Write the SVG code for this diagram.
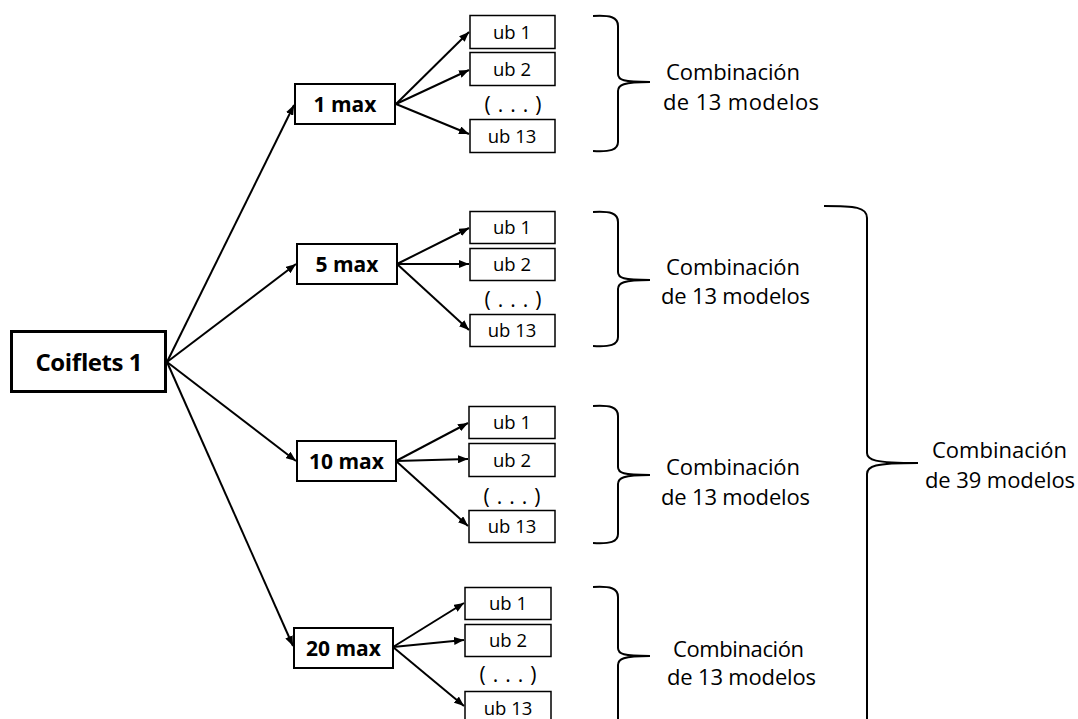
<svg xmlns="http://www.w3.org/2000/svg" width="1078" height="719" viewBox="0 0 1078 719">
<style>
.bg{fill:#ffffff}
.box{fill:#ffffff;stroke:#000;stroke-width:2}
.root{fill:#ffffff;stroke:#000;stroke-width:3}
.ub{fill:#ffffff;stroke:#000;stroke-width:1.5}
.tb{font-family:"Open Sans","Liberation Sans",sans-serif;font-weight:bold;fill:#000;text-anchor:middle}
.tu{font-family:"Open Sans","Liberation Sans",sans-serif;font-size:18.5px;fill:#000;text-anchor:middle}
.dots{font-family:"Open Sans","Liberation Sans",sans-serif;font-size:21px;fill:#000;text-anchor:middle}
.lab{font-family:"Open Sans","Liberation Sans",sans-serif;font-size:22px;fill:#000}
.arr{fill:none;stroke:#000;stroke-width:2;marker-end:url(#ah)}
.br{fill:none;stroke:#000;stroke-width:2}
</style>
<defs>
<marker id="ah" markerWidth="10" markerHeight="8" refX="10" refY="4" orient="auto" markerUnits="userSpaceOnUse">
<path d="M0,0 L10,4 L0,8 z" fill="#000"/>
</marker>
</defs>
<rect class="bg" x="0" y="0" width="1078" height="719"/>

<g id="connectors">
<path class="arr" d="M167,362 L294,105"/>
<path class="arr" d="M167,362 L296,264"/>
<path class="arr" d="M167,362 L296,461"/>
<path class="arr" d="M167,362 L293,646"/>
<path class="arr" d="M396,104 L469,32"/>
<path class="arr" d="M396,104 L469,70"/>
<path class="arr" d="M396,104 L469,134"/>
<path class="arr" d="M397,264 L469,228"/>
<path class="arr" d="M397,264 L469,264"/>
<path class="arr" d="M397,264 L469,330"/>
<path class="arr" d="M396,461 L468,423"/>
<path class="arr" d="M396,461 L468,459"/>
<path class="arr" d="M396,461 L468,526"/>
<path class="arr" d="M393,647 L464,603"/>
<path class="arr" d="M393,647 L464,640"/>
<path class="arr" d="M393,647 L464,706"/>
</g>

<g id="coiflets1">
<rect class="root" x="11.5" y="331.5" width="154" height="60"/>
<text class="tb" x="89" y="370.5" font-size="24" textLength="107">Coiflets 1</text>
</g>

<g id="max1">
<rect class="box" x="295" y="84" width="100" height="40"/>
<text class="tb" x="345" y="111.5" font-size="21">1 max</text>
</g>
<g id="max5">
<rect class="box" x="297" y="244" width="100" height="40"/>
<text class="tb" x="347" y="271.5" font-size="21">5 max</text>
</g>
<g id="max10">
<rect class="box" x="297" y="441" width="99" height="40"/>
<text class="tb" x="346.5" y="468.5" font-size="21">10 max</text>
</g>
<g id="max20">
<rect class="box" x="294" y="628" width="99" height="40"/>
<text class="tb" x="343.5" y="655.5" font-size="21">20 max</text>
</g>

<g id="g1-ub">
<rect class="ub" x="470" y="15.5" width="85" height="33"/>
<text class="tu" x="512" y="38.5">ub 1</text>
<rect class="ub" x="470" y="52.5" width="85" height="33"/>
<text class="tu" x="512" y="75.5">ub 2</text>
<text class="dots" x="513" y="112" textLength="57">( . . . )</text>
<rect class="ub" x="470" y="119.5" width="85" height="33"/>
<text class="tu" x="512" y="142.5">ub 13</text>
</g>
<g id="g2-ub">
<rect class="ub" x="470" y="211.5" width="85" height="32"/>
<text class="tu" x="512" y="234">ub 1</text>
<rect class="ub" x="470" y="248.5" width="85" height="32"/>
<text class="tu" x="512" y="271">ub 2</text>
<text class="dots" x="513" y="307" textLength="57">( . . . )</text>
<rect class="ub" x="470" y="314.5" width="85" height="32"/>
<text class="tu" x="512" y="337">ub 13</text>
</g>
<g id="g3-ub">
<rect class="ub" x="469" y="406.5" width="86" height="32"/>
<text class="tu" x="512" y="429">ub 1</text>
<rect class="ub" x="469" y="443.5" width="86" height="33"/>
<text class="tu" x="512" y="466.5">ub 2</text>
<text class="dots" x="512" y="504" textLength="57">( . . . )</text>
<rect class="ub" x="469" y="510.5" width="86" height="32"/>
<text class="tu" x="512" y="533">ub 13</text>
</g>
<g id="g4-ub">
<rect class="ub" x="465" y="587.5" width="86" height="32"/>
<text class="tu" x="508" y="610">ub 1</text>
<rect class="ub" x="465" y="624.5" width="86" height="32"/>
<text class="tu" x="508" y="647">ub 2</text>
<text class="dots" x="508" y="682" textLength="57">( . . . )</text>
<rect class="ub" x="465" y="691.5" width="86" height="34"/>
<text class="tu" x="508" y="714.5">ub 13</text>
</g>

<g id="brace1">
<path class="br" d="M593,16 C610,15 618,17 618,26 L618,74 C618,80 623,82 650,82 C623,82 618,85 618,91 L618,142 C618,150 610,152 593,151"/>
<text class="lab" x="666" y="80" textLength="134">Combinación</text>
<text class="lab" x="663" y="110" textLength="156">de 13 modelos</text>
</g>
<g id="brace2">
<path class="br" d="M593,212 C610,211 618,213 618,222 L618,272 C618,278 623,280 650,280 C623,280 618,283 618,289 L618,337 C618,345 610,347 593,346"/>
<text class="lab" x="666" y="275" textLength="134">Combinación</text>
<text class="lab" x="661" y="304" textLength="149">de 13 modelos</text>
</g>
<g id="brace3">
<path class="br" d="M593,406 C610,405 618,407 618,416 L618,467 C618,473 623,475 650,475 C623,475 618,478 618,484 L618,534 C618,542 610,544 593,543"/>
<text class="lab" x="666" y="475" textLength="134">Combinación</text>
<text class="lab" x="661" y="505" textLength="149">de 13 modelos</text>
</g>
<g id="brace4">
<path class="br" d="M593,587 C610,586 618,588 618,597 L618,648 C618,654 623,656 650,656 C623,656 618,659 618,665 L618,730"/>
<text class="lab" x="673" y="657" textLength="131">Combinación</text>
<text class="lab" x="667" y="685" textLength="149">de 13 modelos</text>
</g>
<g id="brace-total">
<path class="br" d="M824,206 C855,206 867,207 867,218 L867,453 C867,460 874,463 918,463 C874,463 867,466 867,474 L867,730"/>
<text class="lab" x="932" y="458" textLength="135">Combinación</text>
<text class="lab" x="925" y="488" textLength="150">de 39 modelos</text>
</g>
</svg>
